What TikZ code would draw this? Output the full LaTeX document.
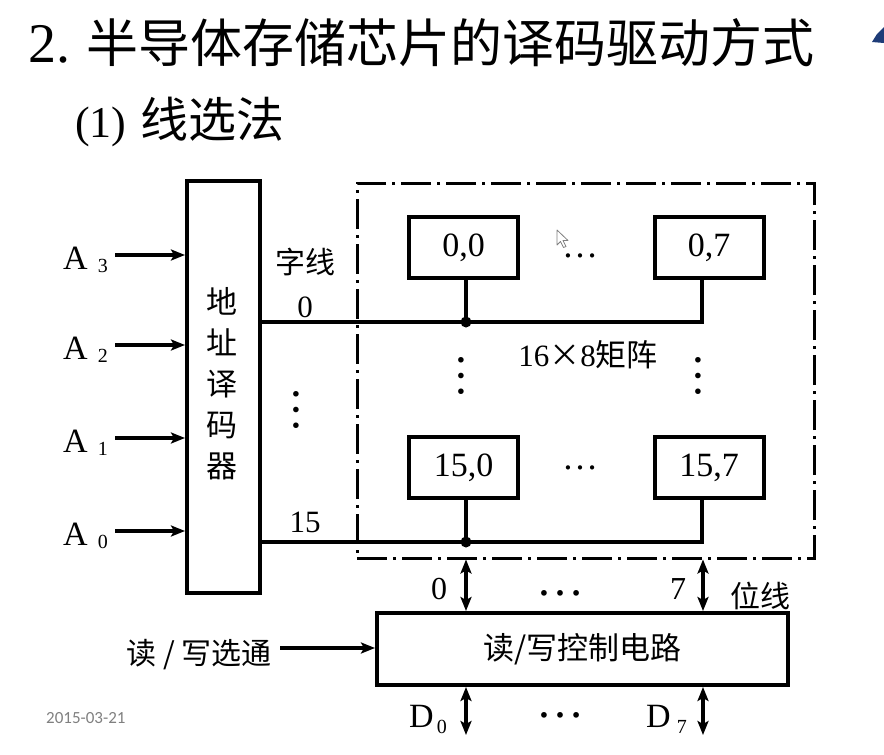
\documentclass[tikz,border=0pt]{standalone}
\usepackage{fontspec}
\setmainfont{Liberation Serif}
\newfontfamily\cjk{Noto Sans CJK SC}
\newfontfamily\stampfont{Carlito}
\usetikzlibrary{arrows.meta}
\newcommand\setpx[1]{\fontsize{#1}{#1}\selectfont}

\begin{document}
\begin{tikzpicture}[x=1pt,y=-1pt,
  box/.style={draw,line width=4pt,inner sep=0pt},
  cell/.style={box,minimum width=109pt,minimum height=61pt,font=\setpx{34}},
  wire/.style={line width=3.5pt},
  sig/.style={line width=3.5pt,-{Stealth[length=14pt,width=11pt,inset=3pt]}},
  bus/.style={line width=3.5pt,{Stealth[length=14pt,width=11pt,inset=3pt]}-{Stealth[length=14pt,width=11pt,inset=3pt]}},
  lbl/.style={inner sep=0pt},
  dotv/.style={inner sep=0pt,rotate=90,anchor=base,font=\setpx{47}},
  doth/.style={inner sep=0pt,anchor=base}]
\useasboundingbox (0,0) rectangle (884,755);
\fill[white] (0,0) rectangle (884,755);

% heading lines
\node[lbl,anchor=base west,font=\setpx{56}] (num) at (28,62) {2.};
\node[lbl,anchor=base west,font=\cjk\setpx{52}] (title) at (86,62) {半导体存储芯片的译码驱动方式};
\node[lbl,anchor=base west,font=\setpx{44}] (sub) at (75,137) {(1)};
\node[lbl,anchor=base west,font=\cjk\setpx{48}] (subt) at (140,137) {线选法};

% corner of a toolbar icon
\fill[fill={rgb,255:red,30;green,60;blue,120}] (884,27) -- (877,34) -- (872,42) -- (884,43) -- cycle;

% address decoder
\node[box,minimum width=73pt,minimum height=412pt] (dec) at (223.5,387) {};
\node[lbl,align=center,font=\cjk\fontsize{31}{41}\selectfont] (dectext) at (222,384) {地\\址\\译\\码\\器};

% address inputs
\node[lbl,anchor=base west,font=\setpx{34}] (la3) at (63,269) {A\hspace{10pt}\raisebox{-3pt}{\setpx{20}3}};
\node[lbl,anchor=base west,font=\setpx{34}] (la2) at (63,359) {A\hspace{10pt}\raisebox{-3pt}{\setpx{20}2}};
\node[lbl,anchor=base west,font=\setpx{34}] (la1) at (63,452) {A\hspace{10pt}\raisebox{-3pt}{\setpx{20}1}};
\node[lbl,anchor=base west,font=\setpx{34}] (la0) at (63,545) {A\hspace{10pt}\raisebox{-3pt}{\setpx{20}0}};
\coordinate (a3) at (115,255);
\coordinate (a2) at (115,345);
\coordinate (a1) at (115,438);
\coordinate (a0) at (115,531);
\foreach \a in {a3,a2,a1,a0}
  \draw[sig] (\a) -- (\a -| dec.west);

% memory matrix outline
\node[draw,line width=3pt,dash pattern=on 30pt off 6pt on 3pt off 6pt,
      minimum width=457pt,minimum height=375pt,inner sep=0pt] (mat) at (585.5,370.5) {};

% storage cells
\node[cell] (c00) at (463.5,247.5) {0,0};
\node[cell] (c07) at (709,247.5) {0,7};
\node[cell] (c150) at (463.5,467.5) {15,0};
\node[cell] (c157) at (709,467.5) {15,7};

% word lines
\node[lbl,font=\cjk\setpx{30}] (wl) at (305,262) {字线};
\node[lbl,font=\setpx{31}] (w0) at (305,307) {0};
\node[lbl,font=\setpx{31}] (w15) at (305,522) {15};
\node[dotv] (wdots) at (298,410) {…};
\coordinate (j0) at (466,322);
\coordinate (e0) at (702,322);
\coordinate (j15) at (466,542);
\coordinate (e15) at (702,542);
\draw[wire] (dec.east |- j0) -- (e0) -- (e0 |- c07.south);
\draw[wire] (j0) -- (j0 |- c00.south);
\fill (j0) circle (5.5pt);
\draw[wire] (dec.east |- j15) -- (e15) -- (e15 |- c157.south);
\draw[wire] (j15) -- (j15 |- c150.south);
\fill (j15) circle (5.5pt);

% ellipses inside the matrix
\node[doth,font=\setpx{36}] (r0dots) at (580,257) {…};
\node[doth,font=\setpx{36}] (r15dots) at (580,469) {…};
\node[dotv] (ldots) at (463,376) {…};
\node[dotv] (rdots) at (700,376) {…};
\node[lbl,font=\setpx{31}] (size) at (588,355) {16{\cjk ×}8{\cjk 矩阵}};

% mouse pointer
\draw[fill=white,draw=gray,line width=0.8pt,line join=round]
  (557,230) -- (557,245) -- (560.5,241.5) -- (563.5,247.5) -- (566,246.5) -- (563,240.5) -- (568,240.5) -- cycle;

% read/write control
\node[box,minimum width=411pt,minimum height=72pt,font=\cjk\setpx{31}] (ctl) at (582.5,649) {读/写控制电路};
\node[lbl,anchor=east,font=\cjk\setpx{30}] (rwl) at (272,655) {读 / 写选通};
\coordinate (rw) at (280,648);
\draw[sig] (rw) -- (rw -| ctl.west);

% bit lines
\coordinate (bit0) at (466,600);
\coordinate (bit7) at (703,600);
\draw[bus] (bit0 |- mat.south) -- (bit0 |- ctl.north);
\draw[bus] (bit7 |- mat.south) -- (bit7 |- ctl.north);
\node[lbl,font=\setpx{32}] (b0) at (439,589) {0};
\node[lbl,font=\setpx{32}] (b7) at (678,589) {7};
\node[doth,font=\setpx{48}] (bdots) at (560,595) {…};
\node[lbl,font=\cjk\setpx{30}] (bl) at (760,596) {位线};

% data lines
\coordinate (d0) at (466,735);
\coordinate (d7) at (703,735);
\draw[bus] (d0 |- ctl.south) -- (d0);
\draw[bus] (d7 |- ctl.south) -- (d7);
\node[lbl,anchor=base west,font=\setpx{34}] (ld0) at (409,727) {D\hspace{3pt}\raisebox{-6pt}{\setpx{20}0}};
\node[lbl,anchor=base west,font=\setpx{34}] (ld7) at (646,727) {D\hspace{6pt}\raisebox{-6pt}{\setpx{20}7}};
\node[doth,font=\setpx{48}] (ddots) at (560,717) {…};

% date stamp
\node[lbl,anchor=west,font=\stampfont\setpx{17},text=gray] (date) at (46,718) {2015-03-21};
\end{tikzpicture}
\end{document}
